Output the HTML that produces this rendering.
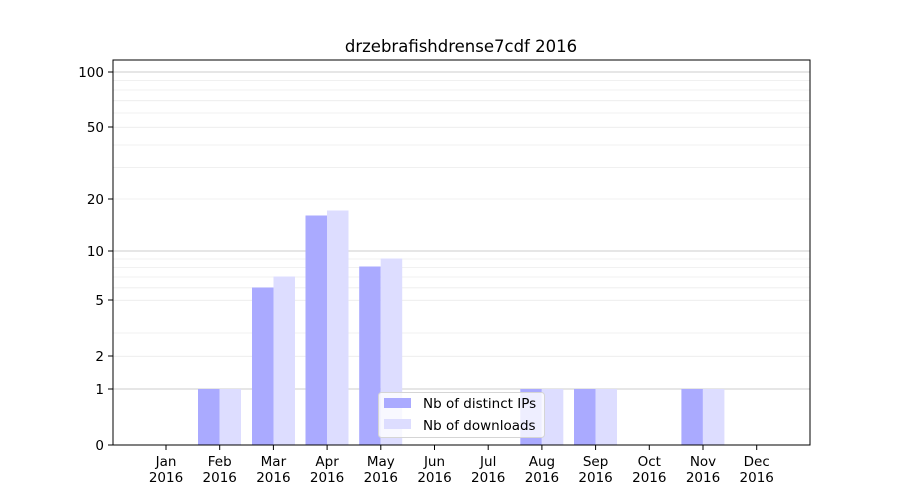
<!DOCTYPE html>
<html><head><style>body{margin:0;background:#fff}svg{display:block}</style></head><body>
<svg width="900" height="500" xmlns="http://www.w3.org/2000/svg" font-family="DejaVu Sans, Liberation Sans, sans-serif">
<rect width="900" height="500" fill="#fff"/>
<g stroke="#ececec" stroke-width="0.8">
<line x1="113" x2="810" y1="356.3" y2="356.3"/><line x1="113" x2="810" y1="333" y2="333"/>
<line x1="113" x2="810" y1="300.3" y2="300.3"/><line x1="113" x2="810" y1="287.8" y2="287.8"/>
<line x1="113" x2="810" y1="277" y2="277"/><line x1="113" x2="810" y1="267.5" y2="267.5"/>
<line x1="113" x2="810" y1="259" y2="259"/><line x1="113" x2="810" y1="199" y2="199"/>
<line x1="113" x2="810" y1="167.6" y2="167.6"/><line x1="113" x2="810" y1="145" y2="145"/>
<line x1="113" x2="810" y1="127.3" y2="127.3"/><line x1="113" x2="810" y1="113" y2="113"/>
<line x1="113" x2="810" y1="100.7" y2="100.7"/><line x1="113" x2="810" y1="90" y2="90"/>
<line x1="113" x2="810" y1="80.6" y2="80.6"/>
</g>
<g stroke="#cccccc" stroke-width="1">
<line x1="113" x2="810" y1="389" y2="389"/><line x1="113" x2="810" y1="251" y2="251"/><line x1="113" x2="810" y1="72" y2="72"/>
</g>
<g fill="#aaaaff">
<rect x="198" y="389" width="21.5" height="56"/>
<rect x="252" y="287.5" width="21.5" height="157.5"/>
<rect x="305.5" y="215.5" width="21.5" height="229.5"/>
<rect x="359.2" y="266.5" width="21.5" height="178.5"/>
<rect x="520.3" y="389" width="21.5" height="56"/>
<rect x="574" y="389" width="21.5" height="56"/>
<rect x="681.4" y="389" width="21.5" height="56"/>
</g>
<g fill="#ddddff">
<rect x="219.5" y="389" width="21.5" height="56"/>
<rect x="273.5" y="276.5" width="21.5" height="168.5"/>
<rect x="327" y="210.5" width="21.5" height="234.5"/>
<rect x="380.7" y="258.5" width="21.5" height="186.5"/>
<rect x="541.8" y="389" width="21.5" height="56"/>
<rect x="595.5" y="389" width="21.5" height="56"/>
<rect x="702.9" y="389" width="21.5" height="56"/>
</g>
<rect x="113" y="60" width="697" height="385" fill="none" stroke="#000" stroke-width="1"/>
<g stroke="#000"><line x1="108" x2="113" y1="445" y2="445"/><line x1="108" x2="113" y1="389" y2="389"/><line x1="108" x2="113" y1="356" y2="356"/><line x1="108" x2="113" y1="300" y2="300"/><line x1="108" x2="113" y1="251" y2="251"/><line x1="108" x2="113" y1="199" y2="199"/><line x1="108" x2="113" y1="127" y2="127"/><line x1="108" x2="113" y1="72" y2="72"/></g>
<g font-size="13.5" text-anchor="end" fill="#000">
<text x="104" y="450">0</text><text x="104" y="394">1</text><text x="104" y="361">2</text><text x="104" y="305">5</text><text x="104" y="256">10</text><text x="104" y="204">20</text><text x="104" y="132">50</text><text x="104" y="77">100</text>
</g>
<g stroke="#000">
<line x1="166" x2="166" y1="445" y2="450"/><line x1="219.7" x2="219.7" y1="445" y2="450"/><line x1="273.4" x2="273.4" y1="445" y2="450"/><line x1="327.1" x2="327.1" y1="445" y2="450"/><line x1="380.8" x2="380.8" y1="445" y2="450"/><line x1="434.5" x2="434.5" y1="445" y2="450"/><line x1="488.2" x2="488.2" y1="445" y2="450"/><line x1="541.9" x2="541.9" y1="445" y2="450"/><line x1="595.6" x2="595.6" y1="445" y2="450"/><line x1="649.3" x2="649.3" y1="445" y2="450"/><line x1="703" x2="703" y1="445" y2="450"/><line x1="756.7" x2="756.7" y1="445" y2="450"/>
</g>
<g font-size="13.5" text-anchor="middle" fill="#000">
<text x="166" y="466">Jan</text><text x="166" y="482">2016</text>
<text x="219.7" y="466">Feb</text><text x="219.7" y="482">2016</text>
<text x="273.4" y="466">Mar</text><text x="273.4" y="482">2016</text>
<text x="327.1" y="466">Apr</text><text x="327.1" y="482">2016</text>
<text x="380.8" y="466">May</text><text x="380.8" y="482">2016</text>
<text x="434.5" y="466">Jun</text><text x="434.5" y="482">2016</text>
<text x="488.2" y="466">Jul</text><text x="488.2" y="482">2016</text>
<text x="541.9" y="466">Aug</text><text x="541.9" y="482">2016</text>
<text x="595.6" y="466">Sep</text><text x="595.6" y="482">2016</text>
<text x="649.3" y="466">Oct</text><text x="649.3" y="482">2016</text>
<text x="703" y="466">Nov</text><text x="703" y="482">2016</text>
<text x="756.7" y="466">Dec</text><text x="756.7" y="482">2016</text>
</g>
<text x="461" y="52" font-size="16.5" text-anchor="middle">drzebrafishdrense7cdf 2016</text>
<rect x="378.5" y="392.5" width="166" height="45" rx="3" fill="#fff" fill-opacity="0.8" stroke="#d5d5d5"/>
<rect x="384" y="398" width="27" height="10" fill="#aaaaff"/>
<rect x="384" y="419" width="27" height="10" fill="#ddddff"/>
<text x="423" y="408" font-size="13.5">Nb of distinct IPs</text>
<text x="423" y="430" font-size="13.5">Nb of downloads</text>
</svg>
</body></html>
